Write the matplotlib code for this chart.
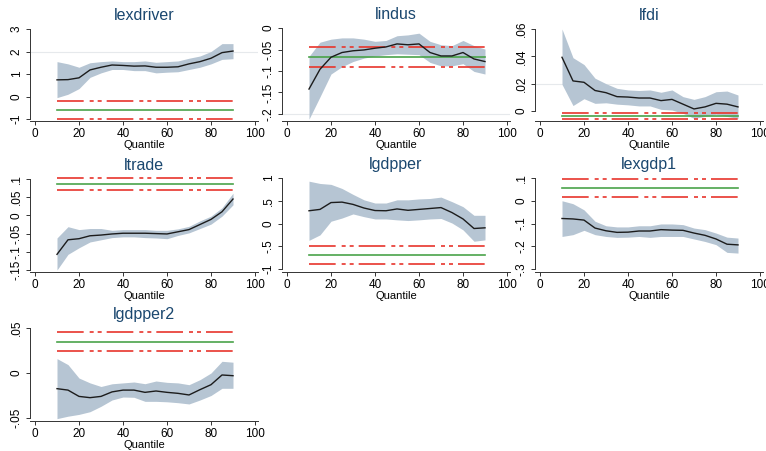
import matplotlib
matplotlib.use("Agg")
import matplotlib.pyplot as plt

plt.rcParams["font.family"] = ["Liberation Sans", "DejaVu Sans"]

quantiles = [10, 15, 20, 25, 30, 35, 40, 45, 50, 55, 60, 65, 70, 75, 80, 85, 90]

names = ["lexdriver", "lindus", "lfdi", "ltrade", "lgdpper", "lexgdp1", "lgdpper2"]

coef = {
    "lexdriver": [0.74, 0.75, 0.83, 1.18, 1.30, 1.40, 1.38, 1.35, 1.36, 1.30, 1.30, 1.32, 1.45, 1.55, 1.70, 1.95, 2.02],
    "lindus": [-0.142, -0.096, -0.068, -0.057, -0.053, -0.051, -0.047, -0.044, -0.037, -0.039, -0.037, -0.057, -0.065, -0.065, -0.057, -0.072, -0.078],
    "lfdi": [0.0393, 0.022, 0.021, 0.015, 0.0134, 0.0105, 0.0102, 0.0095, 0.0095, 0.0076, 0.0085, 0.005, 0.0015, 0.003, 0.0056, 0.005, 0.003],
    "ltrade": [-0.107, -0.067, -0.064, -0.056, -0.054, -0.051, -0.049, -0.049, -0.049, -0.050, -0.051, -0.045, -0.039, -0.025, -0.011, 0.010, 0.045],
    "lgdpper": [0.28, 0.31, 0.46, 0.47, 0.42, 0.34, 0.285, 0.28, 0.32, 0.29, 0.31, 0.33, 0.35, 0.24, 0.10, -0.11, -0.095],
    "lexgdp1": [-0.078, -0.080, -0.085, -0.120, -0.132, -0.139, -0.138, -0.133, -0.133, -0.127, -0.129, -0.130, -0.142, -0.152, -0.168, -0.191, -0.194],
    "lgdpper2": [-0.0174, -0.019, -0.026, -0.0274, -0.026, -0.021, -0.019, -0.019, -0.0215, -0.020, -0.0215, -0.0226, -0.0244, -0.0185, -0.013, -0.0022, -0.003],
}

upper = {
    "lexdriver": [1.55, 1.45, 1.30, 1.50, 1.55, 1.58, 1.55, 1.55, 1.58, 1.52, 1.55, 1.58, 1.70, 1.80, 2.00, 2.35, 2.35],
    "lindus": [-0.066, -0.033, -0.026, -0.023, -0.023, -0.026, -0.031, -0.029, -0.018, -0.016, -0.012, -0.031, -0.039, -0.041, -0.029, -0.041, -0.049],
    "lfdi": [0.060, 0.039, 0.034, 0.024, 0.020, 0.0166, 0.0154, 0.015, 0.0154, 0.0137, 0.0154, 0.0105, 0.0085, 0.0105, 0.0141, 0.0146, 0.0117],
    "ltrade": [-0.062, -0.031, -0.039, -0.036, -0.036, -0.041, -0.039, -0.039, -0.039, -0.041, -0.041, -0.037, -0.030, -0.015, -0.002, 0.021, 0.061],
    "lgdpper": [0.93, 0.88, 0.86, 0.77, 0.64, 0.52, 0.45, 0.45, 0.52, 0.52, 0.54, 0.55, 0.58, 0.48, 0.37, 0.18, 0.18],
    "lexgdp1": [0.0, -0.013, -0.040, -0.090, -0.110, -0.115, -0.115, -0.110, -0.110, -0.102, -0.102, -0.105, -0.120, -0.127, -0.142, -0.160, -0.164],
    "lgdpper2": [0.016, 0.0093, -0.0056, -0.011, -0.015, -0.012, -0.011, -0.010, -0.0119, -0.0089, -0.0104, -0.011, -0.013, -0.0074, 0.0, 0.013, 0.012],
}

lower = {
    "lexdriver": [-0.05, 0.10, 0.35, 0.85, 1.05, 1.20, 1.20, 1.15, 1.15, 1.05, 1.08, 1.10, 1.20, 1.30, 1.45, 1.65, 1.68],
    "lindus": [-0.212, -0.160, -0.107, -0.090, -0.078, -0.070, -0.065, -0.062, -0.060, -0.061, -0.062, -0.080, -0.088, -0.088, -0.083, -0.101, -0.107],
    "lfdi": [0.0195, 0.004, 0.009, 0.0056, 0.006, 0.005, 0.0045, 0.0037, 0.0037, 0.0012, 0.0007, -0.0017, -0.0054, -0.004, -0.0024, -0.004, -0.0054],
    "ltrade": [-0.150, -0.107, -0.089, -0.073, -0.067, -0.061, -0.059, -0.059, -0.061, -0.062, -0.064, -0.055, -0.048, -0.036, -0.024, -0.002, 0.029],
    "lgdpper": [-0.37, -0.25, 0.05, 0.12, 0.21, 0.15, 0.10, 0.10, 0.08, 0.065, 0.08, 0.10, 0.11, 0.01, -0.14, -0.39, -0.36],
    "lexgdp1": [-0.157, -0.149, -0.130, -0.149, -0.157, -0.161, -0.160, -0.157, -0.161, -0.157, -0.157, -0.157, -0.168, -0.179, -0.193, -0.227, -0.230],
    "lgdpper2": [-0.0507, -0.048, -0.046, -0.043, -0.037, -0.030, -0.0267, -0.027, -0.0315, -0.0315, -0.032, -0.033, -0.0344, -0.030, -0.025, -0.017, -0.017],
}

# OLS estimate and its confidence bounds
ols = {
    "lexdriver": (-0.60, -1.00, -0.19),
    "lindus": (-0.068, -0.091, -0.045),
    "lfdi": (-0.0036, -0.006, -0.0012),
    "ltrade": (0.086, 0.069, 0.103),
    "lgdpper": (-0.70, -0.89, -0.50),
    "lexgdp1": (0.056, 0.016, 0.097),
    "lgdpper2": (0.0344, 0.024, 0.0456),
}

yticks = {
    "lexdriver": [-1, 0, 1, 2, 3],
    "lindus": [-0.2, -0.15, -0.1, -0.05, 0],
    "lfdi": [0, 0.02, 0.04, 0.06],
    "ltrade": [-0.15, -0.1, -0.05, 0, 0.05, 0.1],
    "lgdpper": [-1, -0.5, 0, 0.5, 1],
    "lexgdp1": [-0.3, -0.2, -0.1, 0, 0.1],
    "lgdpper2": [-0.05, 0, 0.05],
}

grid_at = {"lexdriver": [2], "lindus": [-0.2], "lfdi": [0.02]}

xticks = [0, 20, 40, 60, 80, 100]

W, H = 766, 451
col_x0 = [35, 287, 540]
# pixel rows of the top / bottom y tick of each panel, and the x-axis line of each row
tick_px = {
    "lexdriver": (29, 119), "lindus": (28, 114), "lfdi": (29, 111),
    "ltrade": (179, 270), "lgdpper": (178, 269), "lexgdp1": (178, 269),
    "lgdpper2": (328, 418),
}
axis_px = [121, 272, 421]

BAND = "#b6c5d3"
RED = "#e8352c"
GREEN = "#4aa34a"
TITLE = "#1a476f"
DASH = (0, (16, 3.6, 2.4, 2.4, 2.4, 3.0))


def stata_fmt(v):
    if abs(v) < 1e-12:
        return "0"
    return ("%g" % v).replace("0.", ".")


fig = plt.figure(figsize=(W / 100, H / 100), dpi=100)

for i, name in enumerate(names):
    r, c = divmod(i, 3)
    x0 = col_x0[c]
    yt, yb = tick_px[name]
    ticks = yticks[name]
    lo, hi = min(ticks), max(ticks)
    per_px = (hi - lo) / (yb - yt)
    top = yt - 3
    bot = axis_px[r]
    ylo = lo - (bot - yb) * per_px
    yhi = hi + (yt - top) * per_px
    xlo, xhi = -2.5, 101.5
    left = x0 + xlo * 2.2
    width = (xhi - xlo) * 2.2
    ax = fig.add_axes([left / W, 1 - bot / H, width / W, (bot - top) / H])

    for g in grid_at.get(name, []):
        ax.axhline(g, color="#e6e9ec", lw=0.8, zorder=0)
    ax.fill_between(quantiles, lower[name], upper[name], color=BAND, lw=0, zorder=1)
    ax.plot(quantiles, coef[name], color="#1c1c1c", lw=1.0, zorder=3)
    est, cl, cu = ols[name]
    q = [quantiles[0], quantiles[-1]]
    ax.plot(q, [est, est], color=GREEN, lw=1.2, zorder=2)
    ax.plot(q, [cl, cl], color=RED, lw=1.2, ls=DASH, zorder=2)
    ax.plot(q, [cu, cu], color=RED, lw=1.2, ls=DASH, zorder=2)

    ax.set_xlim(xlo, xhi)
    ax.set_ylim(ylo, yhi)
    ax.set_xticks(xticks)
    ax.set_yticks(ticks)
    ax.set_yticklabels([stata_fmt(t) for t in ticks], rotation=90, va="center")
    ax.tick_params(labelsize=8.5, length=3, width=0.7, color="#333333", pad=2)
    for s in ["top", "right"]:
        ax.spines[s].set_visible(False)
    for s in ["left", "bottom"]:
        ax.spines[s].set_linewidth(0.7)
        ax.spines[s].set_color("#333333")
    ax.spines["left"].set_bounds(lo, hi)
    ax.set_title(name, fontsize=11.5, color=TITLE, pad=4)
    ax.set_xlabel("Quantile", fontsize=8, labelpad=0)

fig.savefig("out.png", dpi=100)
